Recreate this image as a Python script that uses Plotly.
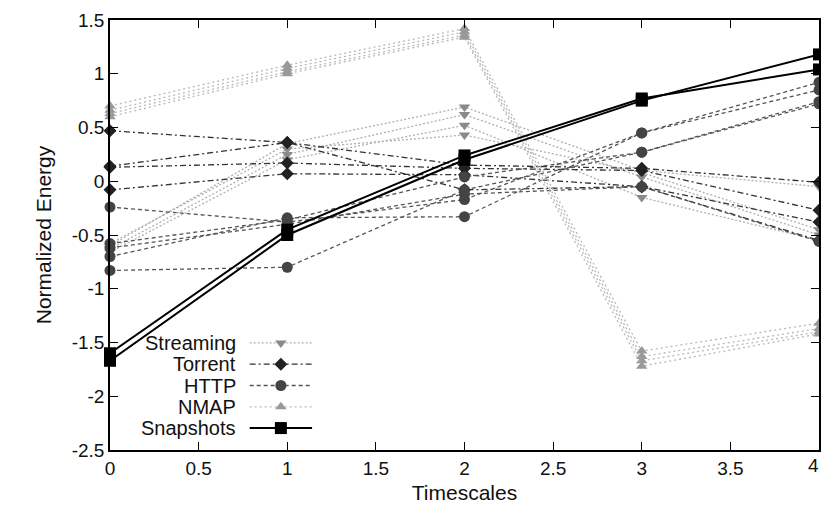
import plotly.graph_objects as go

timescales = [0, 1, 2, 3, 4]

streaming = [
    [-0.60, 0.35, 0.69, 0.10, -0.05],
    [-0.63, 0.25, 0.62, 0.04, -0.50],
    [-0.66, 0.20, 0.52, -0.15, -0.55],
    [-0.58, 0.30, 0.43, 0.08, -0.45],
]
torrent = [
    [0.47, 0.36, -0.08, -0.05, -0.55],
    [0.14, 0.36, 0.15, 0.12, -0.01],
    [0.13, 0.17, 0.12, 0.10, -0.27],
    [-0.08, 0.07, 0.06, -0.05, -0.38],
]
http = [
    [-0.24, -0.38, -0.17, 0.45, 0.92],
    [-0.58, -0.36, 0.04, 0.27, 0.74],
    [-0.70, -0.34, -0.33, 0.45, 0.85],
    [-0.83, -0.80, -0.08, 0.27, 0.72],
    [-0.62, -0.40, -0.12, -0.05, -0.56],
]
nmap = [
    [0.70, 1.08, 1.42, -1.58, -1.32],
    [0.66, 1.05, 1.39, -1.63, -1.37],
    [0.63, 1.02, 1.36, -1.67, -1.40],
    [0.60, 1.00, 1.34, -1.72, -1.42],
]
snapshots = [
    [-1.60, -0.45, 0.24, 0.77, 1.04],
    [-1.67, -0.50, 0.20, 0.75, 1.18],
]

legend_labels = ["Streaming", "Torrent", "HTTP", "NMAP", "Snapshots"]
x_ticks = [0, 0.5, 1, 1.5, 2, 2.5, 3, 3.5, 4]
y_ticks = [-2.5, -2, -1.5, -1, -0.5, 0, 0.5, 1, 1.5]

styles = {
    "Streaming": dict(color="#b0b0b0", dash="2px,2px", width=1.3, symbol="triangle-down", mcolor="#8a8a8a", msize=10),
    "Torrent": dict(color="#333333", dash="6px,3px,2px,3px", width=1.3, symbol="diamond", mcolor="#222222", msize=10),
    "HTTP": dict(color="#555555", dash="4px,3px", width=1.3, symbol="circle", mcolor="#444444", msize=11),
    "NMAP": dict(color="#b8b8b8", dash="2px,3px", width=1.3, symbol="triangle-up", mcolor="#999999", msize=10),
    "Snapshots": dict(color="#000000", dash="solid", width=2.0, symbol="square", mcolor="#000000", msize=12),
}

groups = [("Streaming", streaming), ("Torrent", torrent), ("HTTP", http), ("NMAP", nmap), ("Snapshots", snapshots)]

fig = go.Figure()
for name, series in groups:
    s = styles[name]
    for ys in series:
        fig.add_trace(go.Scatter(
            x=timescales, y=ys, mode="lines+markers", name=name, showlegend=False,
            line=dict(color=s["color"], dash=s["dash"], width=s["width"]),
            marker=dict(symbol=s["symbol"], color=s["mcolor"], size=s["msize"], line=dict(width=0)),
            cliponaxis=False,
        ))

# custom gnuplot-style legend (text on the left, sample on the right)
for i, name in enumerate(legend_labels):
    s = styles[name]
    yy = 0.249 - i * 0.0495
    fig.add_trace(go.Scatter(
        x=[0.197, 0.241, 0.285], y=[yy, yy, yy], xaxis="x2", yaxis="y2",
        mode="lines", showlegend=False, hoverinfo="skip",
        line=dict(color=s["color"], dash=s["dash"], width=s["width"]),
    ))
    fig.add_trace(go.Scatter(
        x=[0.241], y=[yy], xaxis="x2", yaxis="y2",
        mode="markers", showlegend=False, hoverinfo="skip",
        marker=dict(symbol=s["symbol"], color=s["mcolor"], size=s["msize"], line=dict(width=0)),
    ))
    fig.add_annotation(
        x=0.181, y=yy, xref="x2", yref="y2", text=name, showarrow=False,
        xanchor="right", yanchor="middle", font=dict(size=20, color="#111111"),
    )

# the last x tick label ("4") sits at the window edge; plotly drops it, so draw it as text
fig.add_annotation(
    x=x_ticks[-1], y=0, xref="x", yref="paper", yanchor="top", xanchor="right",
    xshift=2, yshift=-3, text=f"{x_ticks[-1]:g}", showarrow=False, font=dict(size=19, color="#111111"),
)

axis_common = dict(
    showgrid=False, zeroline=False, showline=True, linecolor="#000000", linewidth=1.5,
    mirror="allticks", ticks="inside", ticklen=8, tickwidth=1, tickcolor="#000000",
    tickfont=dict(size=19, color="#111111"), automargin=False,
)

fig.update_layout(
    width=821, height=510,
    margin=dict(l=110, r=2, t=20, b=60),
    paper_bgcolor="white", plot_bgcolor="white",
    font=dict(family="Liberation Sans, Arial, sans-serif", color="#111111"),
    xaxis=dict(range=[0, 4], tickvals=x_ticks, ticktext=[f"{v:g}" for v in x_ticks],
               title=dict(text="Timescales", font=dict(size=21), standoff=8), **axis_common),
    yaxis=dict(range=[-2.5, 1.5], tickvals=y_ticks, ticktext=[f"{v:g}" for v in y_ticks],
               title=dict(text="Normalized Energy", font=dict(size=21), standoff=14), **axis_common),
    xaxis2=dict(range=[0, 1], overlaying="x", visible=False, fixedrange=True),
    yaxis2=dict(range=[0, 1], overlaying="y", visible=False, fixedrange=True),
    showlegend=False,
)

# remove the page's default body margin so the 821x510 figure fills the window exactly
fig.write_html(
    "out.html",
    config={"displayModeBar": False},
    post_script="document.body.style.margin='0';document.body.style.overflow='hidden';",
)
